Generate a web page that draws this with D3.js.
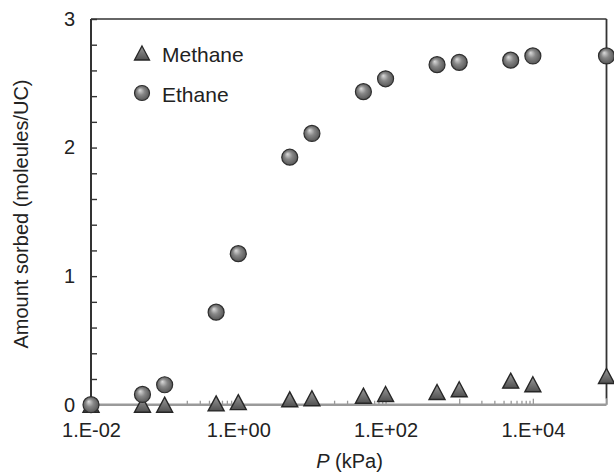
<!DOCTYPE html>
<html>
<head>
<meta charset="utf-8">
<script src="https://cdn.jsdelivr.net/npm/d3@7"></script>
<style>
  html, body { margin: 0; padding: 0; background: #fff; }
  svg { display: block; }
  text { font-family: "Liberation Sans", Arial, Helvetica, sans-serif; fill: #222; }
</style>
</head>
<body>
<svg id="chart" width="614" height="474"></svg>
<script>
// ---- data ----
const pressures   = [0.01, 0.05, 0.1, 0.5, 1, 5, 10, 50, 100, 500, 1000, 5000, 10000, 100000];
const ethane      = [0.00, 0.08, 0.155, 0.72, 1.175, 1.925, 2.11, 2.435, 2.535, 2.645, 2.663, 2.68, 2.713, 2.713];
const methane     = [0.00, 0.00, 0.00, 0.01, 0.02, 0.042, 0.05, 0.07, 0.083, 0.099, 0.12, 0.187, 0.159, 0.223];
const xTickValues = [0.01, 1, 100, 10000];
const xTickLabels = ["1.E-02", "1.E+00", "1.E+02", "1.E+04"];
const yTickLabels = [0, 1, 2, 3];
const yMinorStep  = 0.2;
const minorDecades = [0.1, 10, 1000];   // decades that carry minor ticks
const seriesNames = ["Methane", "Ethane"];

// ---- layout ----
const svg = d3.select("#chart");
const L = 91, R = 606.5, T = 19, B = 404.7;

const x = d3.scaleLog().domain([0.01, 100000]).range([L, R]);
const y = d3.scaleLinear().domain([0, 3]).range([B, T]);

// defs: gradients
const defs = svg.append("defs");
const rg = defs.append("radialGradient").attr("id", "ball")
  .attr("cx", "50%").attr("cy", "50%").attr("r", "55%")
  .attr("fx", "35%").attr("fy", "30%");
rg.append("stop").attr("offset", "0%").attr("stop-color", "#dcdcdc");
rg.append("stop").attr("offset", "45%").attr("stop-color", "#878787");
rg.append("stop").attr("offset", "100%").attr("stop-color", "#505050");

const lg = defs.append("linearGradient").attr("id", "tri")
  .attr("x1", "0").attr("y1", "0").attr("x2", "0").attr("y2", "1");
lg.append("stop").attr("offset", "0%").attr("stop-color", "#9a9a9a");
lg.append("stop").attr("offset", "100%").attr("stop-color", "#505050");

// frame: top and right border
svg.append("line").attr("x1", L).attr("x2", R).attr("y1", T).attr("y2", T)
  .attr("stroke", "#333").attr("stroke-width", 1.6);
svg.append("line").attr("x1", R).attr("x2", R).attr("y1", T).attr("y2", B - 6)
  .attr("stroke", "#333").attr("stroke-width", 1.8);
svg.append("line").attr("x1", R).attr("x2", R).attr("y1", B - 6).attr("y2", B)
  .attr("stroke", "#999").attr("stroke-width", 1.8);

// x axis: minor ticks (upwards)
const minorVals = [];
minorDecades.forEach(d => { for (let k = 2; k <= 9; k++) minorVals.push(d * k); });
const xMinor = svg.append("g").attr("transform", `translate(0,${B})`)
  .call(d3.axisBottom(x).tickValues(minorVals).tickSize(-4).tickFormat(""));
const decadeVals = d3.range(-2, 6).map(e => Math.pow(10, e));
const xMajor = svg.append("g").attr("transform", `translate(0,${B})`)
  .call(d3.axisBottom(x).tickValues(decadeVals).tickSize(-6).tickFormat(""));
[xMinor, xMajor].forEach(g => {
  g.select(".domain").remove();
  g.selectAll(".tick line").attr("stroke", "#999").attr("stroke-width", 1.3);
});
// x axis line
svg.append("line").attr("x1", L).attr("x2", R).attr("y1", B).attr("y2", B)
  .attr("stroke", "#9a9a9a").attr("stroke-width", 2.4);

// x tick labels
const xLab = svg.append("g").attr("transform", `translate(0,${B})`)
  .call(d3.axisBottom(x).tickValues(xTickValues).tickSize(0).tickPadding(18)
    .tickFormat((d, i) => xTickLabels[i]));
xLab.select(".domain").remove();
xLab.selectAll("text").attr("font-size", 20).attr("font-family", null).attr("fill", "#222");

// y axis ticks (inward)
const yMinor = svg.append("g").attr("transform", `translate(${L},0)`)
  .call(d3.axisLeft(y).tickValues(d3.range(0, 3 + 1e-9, yMinorStep)).tickSize(-6).tickFormat(""));
yMinor.select(".domain").remove();
yMinor.selectAll(".tick line").attr("stroke", "#333").attr("stroke-width", 1.4);
svg.append("line").attr("x1", L).attr("x2", L).attr("y1", T).attr("y2", B)
  .attr("stroke", "#333").attr("stroke-width", 2);

const yLab = svg.append("g").attr("transform", `translate(${L},0)`)
  .call(d3.axisLeft(y).tickValues(yTickLabels).tickSize(0).tickPadding(16).tickFormat(d3.format("d")));
yLab.select(".domain").remove();
yLab.selectAll("text").attr("font-size", 20).attr("font-family", null).attr("fill", "#222");

// axis titles
svg.append("text").attr("transform", "translate(28,214) rotate(-90)")
  .attr("text-anchor", "middle").attr("font-size", 20)
  .text("Amount sorbed (moleules/UC)");
const xt = svg.append("text").attr("x", 349.5).attr("y", 468)
  .attr("text-anchor", "middle").attr("font-size", 20);
xt.append("tspan").attr("font-style", "italic").text("P");
xt.append("tspan").text(" (kPa)");

// markers
const triPath = "M0,-7.5L8,7.5L-8,7.5Z";
svg.append("g").selectAll("path").data(pressures.map((p, i) => [p, methane[i]]))
  .join("path")
  .attr("d", triPath)
  .attr("transform", d => `translate(${x(d[0])},${y(d[1])})`)
  .attr("fill", "url(#tri)").attr("stroke", "#262626").attr("stroke-width", 1.4)
  .attr("stroke-linejoin", "miter");

svg.append("g").selectAll("circle").data(pressures.map((p, i) => [p, ethane[i]]))
  .join("circle")
  .attr("cx", d => x(d[0])).attr("cy", d => y(d[1])).attr("r", 8)
  .attr("fill", "url(#ball)").attr("stroke", "#2e2e2e").attr("stroke-width", 1.2);

// legend
const leg = svg.append("g");
leg.append("path").attr("d", "M0,-7L7.5,7L-7.5,7Z").attr("transform", "translate(142,53)")
  .attr("fill", "url(#tri)").attr("stroke", "#262626").attr("stroke-width", 1.3);
leg.append("circle").attr("cx", 142).attr("cy", 93).attr("r", 7.5)
  .attr("fill", "url(#ball)").attr("stroke", "#2e2e2e").attr("stroke-width", 1.2);
leg.selectAll("text.lg").data(seriesNames).join("text").attr("class", "lg")
  .attr("x", 162).attr("y", (d, i) => 61.5 + i * 40)
  .attr("font-size", 21).text(d => d);
</script>
</body>
</html>
